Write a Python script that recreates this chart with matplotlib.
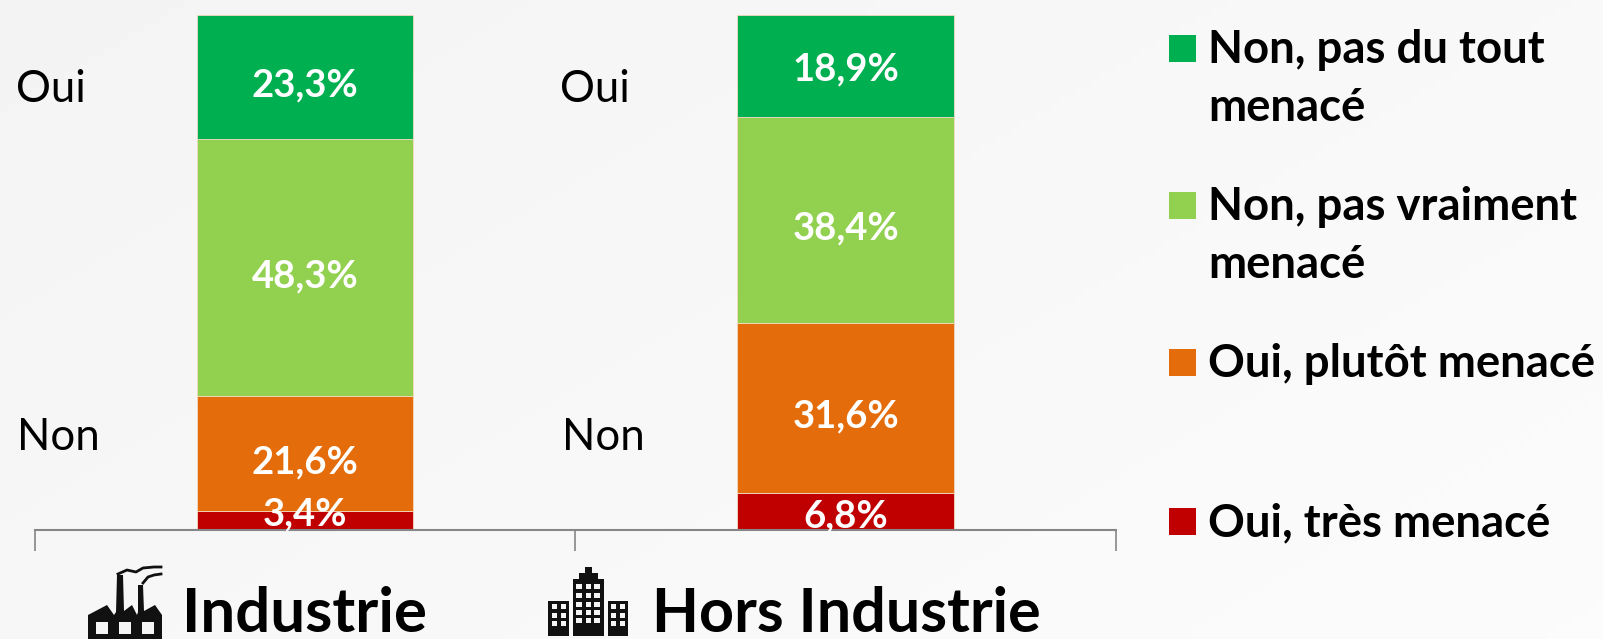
import numpy as np
import matplotlib
matplotlib.use("Agg")
import matplotlib.pyplot as plt
from matplotlib.patches import Polygon, Rectangle

plt.rcParams['font.family'] = ['Lato', 'DejaVu Sans']

# Data (bars are 100% stacked, so values get normalised)
categories = ["Industrie", "Hors Industrie"]
series_names = ["Oui, très menacé", "Oui, plutôt menacé", "Non, pas vraiment\nmenacé", "Non, pas du tout\nmenacé"]
tres_menace = [3.4, 6.8]
plutot_menace = [21.6, 31.6]
pas_vraiment = [48.3, 38.4]
pas_du_tout = [23.3, 18.9]
colors = ["#C00000", "#E46C0A", "#92D050", "#00B050"]

W, H = 1603, 639
fig = plt.figure(figsize=(W / 100, H / 100), dpi=100)


def px_rect(x0, y0, x1, y1):
    # pixel box (y from the top) to figure fractions
    return [x0 / W, 1 - y1 / H, (x1 - x0) / W, (y1 - y0) / H]


# soft diagonal background
bg = fig.add_axes([0, 0, 1, 1], zorder=0)
xx, yy = np.meshgrid(np.linspace(0, 1, 200), np.linspace(0, 1, 80))
bg.imshow(0.955 + 0.03 * (xx * 0.6 + yy * 0.4), cmap="gray", vmin=0, vmax=1, aspect="auto", origin="upper")
bg.axis("off")

# chart axes
ax = fig.add_axes(px_rect(34.5, 15, 1116, 529.5), zorder=1)
ax.patch.set_alpha(0)
stack = np.array([tres_menace, plutot_menace, pas_vraiment, pas_du_tout])
shares = stack / stack.sum(axis=0) * 100
x = np.arange(len(categories))
bottom = np.zeros(len(categories))
# label nudges in points, the small red segments sit off centre in the original
nudge = {(0, 0): 4, (0, 1): -4, (3, 1): -3}
for i in range(len(series_names)):
    ax.bar(x, shares[i], 0.4, bottom=bottom, color=colors[i], linewidth=0.6, edgecolor="#f3d9c0")
    for j in range(len(categories)):
        ypos = bottom[j] + shares[i][j] / 2
        ax.annotate(f"{stack[i][j]:.1f}%".replace(".", ","), (x[j], ypos), xytext=(0, nudge.get((i, j), -6)),
                    textcoords="offset points", color="white", fontsize=27.5, fontweight="bold",
                    ha="center", va="center", zorder=5, annotation_clip=False)
    bottom += shares[i]
ax.set_xlim(-0.5, 1.5)
ax.set_ylim(0, 100)
for s in ["top", "left", "right"]:
    ax.spines[s].set_visible(False)
ax.spines["bottom"].set_color("#868686")
ax.spines["bottom"].set_linewidth(1.5)
ax.set_yticks([])
ax.set_xticks([-0.5, 0.5, 1.5])
ax.set_xticklabels([])
ax.tick_params(axis="x", length=15, width=1.2, color="#868686")

# overlay in pixel coordinates for the labels, legend and icons
ov = fig.add_axes([0, 0, 1, 1], zorder=2)
ov.set_xlim(0, W)
ov.set_ylim(H, 0)
ov.axis("off")
ov.patch.set_alpha(0)

for tx, ty, s in [(16, 89, "Oui"), (17, 437, "Non"), (560, 89, "Oui"), (562, 437, "Non")]:
    ov.text(tx, ty, s, fontsize=31.5, color="black", ha="left", va="center")

ov.text(182, 632, categories[0], fontsize=44.5, fontweight="bold", color="black", ha="left", va="baseline")
ov.text(652, 632, categories[1], fontsize=44, fontweight="bold", color="black", ha="left", va="baseline")

# legend
legend_y = [48, 205, 362, 521]
order = [3, 2, 1, 0]
for ypos, k in zip(legend_y, order):
    ov.add_patch(Rectangle((1169, ypos - 13), 27, 27, color=colors[k], lw=0))
    ov.text(1208, ypos - 19, series_names[k], fontsize=32.8, fontweight="bold",
            color="black", ha="left", va="top", linespacing=1.46)

# factory icon
ink = "#111111"
paper = "#f6f6f6"
ov.add_patch(Polygon([(88, 639), (88, 615), (107, 605), (114, 615), (116, 612), (117, 575), (123, 575), (124, 611),
                      (132, 605), (137, 615), (138, 612), (138, 585), (143, 585), (144, 611), (155, 605),
                      (162, 615), (162, 639)], color=ink, lw=0))
for wx in (96, 119, 142):
    ov.add_patch(Rectangle((wx, 622), 12, 12, color=paper, lw=0))
ov.plot([118, 127, 136, 143, 154, 161], [574, 570, 572, 568, 567, 567], color=ink, lw=2)
ov.plot([143, 148, 154, 161], [583, 577, 575, 574], color=ink, lw=2)

# buildings icon
ov.add_patch(Rectangle((548, 601), 21, 35, color=ink, lw=0))
ov.add_patch(Rectangle((573, 579), 31, 57, color=ink, lw=0))
ov.add_patch(Rectangle((608, 601), 20, 35, color=ink, lw=0))
ov.add_patch(Rectangle((579, 573), 19, 7, color=ink, lw=0))
ov.add_patch(Rectangle((585, 567), 7, 7, color=ink, lw=0))
for bx in (552, 561, 611, 620):
    for by in (604, 613, 621):
        ov.add_patch(Rectangle((bx, by), 5, 5, color=paper, lw=0))
for bx in (576, 585.5, 594):
    for by in (584, 593, 602, 610, 618):
        ov.add_patch(Rectangle((bx, by), 5.5, 5, color=paper, lw=0))

fig.savefig("out.png", dpi=100)
